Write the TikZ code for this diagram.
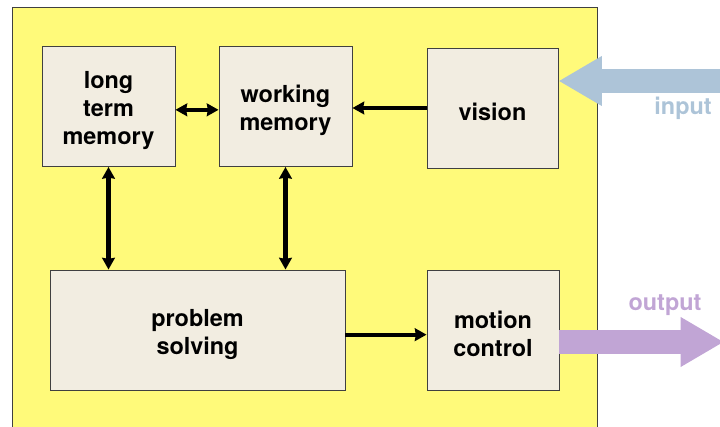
\documentclass[tikz,border=0pt]{standalone}
\usepackage{fontspec}
\setmainfont{TeX Gyre Heros}
\usetikzlibrary{arrows.meta}

\definecolor{panel}{HTML}{FFFA7A}
\definecolor{boxfill}{HTML}{F2EDE1}
\definecolor{incol}{HTML}{ADC4D8}
\definecolor{outcol}{HTML}{C1A5D5}

% a bit of room above the first line of a box
\newcommand{\topgap}{\rule{0pt}{22pt}}

\begin{document}
\begin{tikzpicture}[x=0.03cm, y=-0.03cm,
    unit/.style={draw=black!75, line width=0.8pt, fill=boxfill, align=center,
        font=\fontsize{20}{24}\selectfont\bfseries, minimum height=3.6cm},
    tip/.tip={Stealth[length=0.35cm,width=0.38cm,inset=0.03cm]},
    link/.style={line width=3.6pt, tip-tip},
    oneway/.style={line width=3.6pt, -tip},
    flow/.style={line width=0.7cm, -{Triangle[length=1.3cm,width=1.4cm]}},
    tag/.style={font=\fontsize{20}{24}\selectfont\bfseries}]
    \useasboundingbox (0,0) rectangle (720,427);

    % the system
    \filldraw[fill=panel, draw=black!75, line width=0.8pt] (12,7) rectangle (597,440);

    \node[unit, minimum width=3.99cm] (ltm) at (108.5,106.5) {\topgap long\\term\\memory};
    \node[unit, minimum width=3.99cm] (wm) at (285.5,106.5) {\topgap working\\memory};
    \node[unit, minimum width=3.93cm] (vision) at (492.5,108) {\topgap vision};
    \node[unit, minimum width=8.85cm] (ps) at (197.5,330) {\topgap problem\\solving};
    \node[unit, minimum width=3.96cm] (mc) at (493,330) {\topgap motion\\control};

    \draw[link] ([yshift=-0.1cm]ltm.east) -- ([yshift=-0.1cm]wm.west);
    \draw[oneway] (vision.west) -- (wm.east |- vision.west);
    \draw[link] (ltm.south) -- (ltm.south |- ps.north);
    \draw[link] (wm.south) -- (wm.south |- ps.north);
    \draw[oneway] ([yshift=-0.14cm]ps.east) -- ([yshift=-0.14cm]mc.west);

    % input and output
    \coordinate (insrc) at (724,81);
    \coordinate (outdst) at (724,342);
    \draw[flow, incol] (insrc) -- (vision.east |- insrc);
    \draw[flow, outcol] (mc.east |- outdst) -- (outdst);
    \node[tag, text=incol] (intag) at (683,108) {input};
    \node[tag, text=outcol] (outtag) at (665,305) {output};
\end{tikzpicture}
\end{document}
